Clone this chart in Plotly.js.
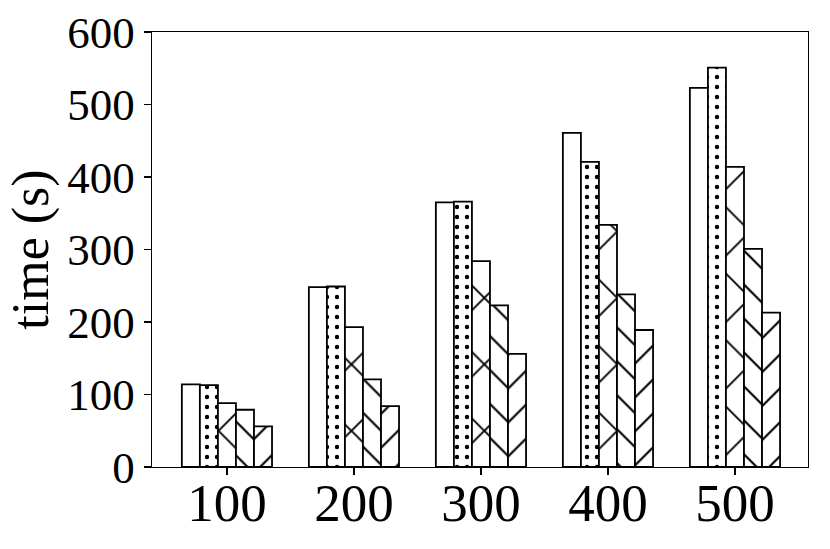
<!DOCTYPE html>
<html>
<head>
<meta charset="utf-8">
<script src="https://cdn.plot.ly/plotly-3.0.1.min.js"></script>
<style>html,body{margin:0;padding:0;background:#fff;}#chart{width:830px;height:549px;}</style>
</head>
<body>
<div id="chart"></div>
<script>
const categories = ["100", "200", "300", "400", "500"];
const seriesPlain   = [114, 248, 365, 461, 523];
const seriesDots    = [113, 249, 366, 421, 551];
const seriesCross   = [88, 193, 284, 334, 414];
const seriesBack    = [79, 121, 223, 238, 301];
const seriesSlash   = [56, 84, 156, 189, 213];
const yTickVals = [0, 100, 200, 300, 400, 500, 600];

const specs = [
  {name: "plain", y: seriesPlain, shape: "", size: 10, sol: 0.3},
  {name: "dots", y: seriesDots, shape: ".", size: 10, sol: 0.15},
  {name: "cross", y: seriesCross, shape: "x", size: 47, sol: 0.08},
  {name: "back", y: seriesBack, shape: "\\", size: 24, sol: 0.09},
  {name: "slash", y: seriesSlash, shape: "/", size: 24, sol: 0.09}
];

const traces = specs.map(s => ({
  type: "bar",
  name: s.name,
  x: categories,
  y: s.y,
  marker: {
    color: "white",
    line: {color: "black", width: 1.8},
    pattern: {shape: s.shape, fgcolor: "black", bgcolor: "white", fgopacity: 1, fillmode: "overlay", size: s.size, solidity: s.sol}
  },
  hoverinfo: "x+y"
}));

const layout = {
  width: 830, height: 549,
  margin: {l: 152, r: 22, t: 32, b: 82},
  paper_bgcolor: "white", plot_bgcolor: "white",
  showlegend: false,
  barmode: "group",
  bargap: 0.29,
  bargroupgap: 0,
  font: {family: "Liberation Serif, Times New Roman, serif", color: "black"},
  xaxis: {
    type: "category",
    range: [-0.59, 4.575],
    showline: true, mirror: true, linecolor: "black", linewidth: 1.3,
    ticks: "outside", ticklen: 7, tickwidth: 1.3, tickcolor: "black",
    tickfont: {size: 53, family: "Liberation Serif, serif"},
    ticklabelstandoff: -18,
    showgrid: false, zeroline: false
  },
  yaxis: {
    range: [0, 600],
    tickvals: yTickVals,
    showline: true, mirror: true, linecolor: "black", linewidth: 1.3,
    ticks: "outside", ticklen: 7, tickwidth: 1.3, tickcolor: "black",
    tickfont: {size: 45, family: "Liberation Serif, serif"},
    title: {text: "time (s)", font: {size: 52, family: "Liberation Serif, serif"}, standoff: 2},
    showgrid: false, zeroline: false
  }
};

Plotly.newPlot("chart", traces, layout, {displayModeBar: false, staticPlot: true});
</script>
</body>
</html>
